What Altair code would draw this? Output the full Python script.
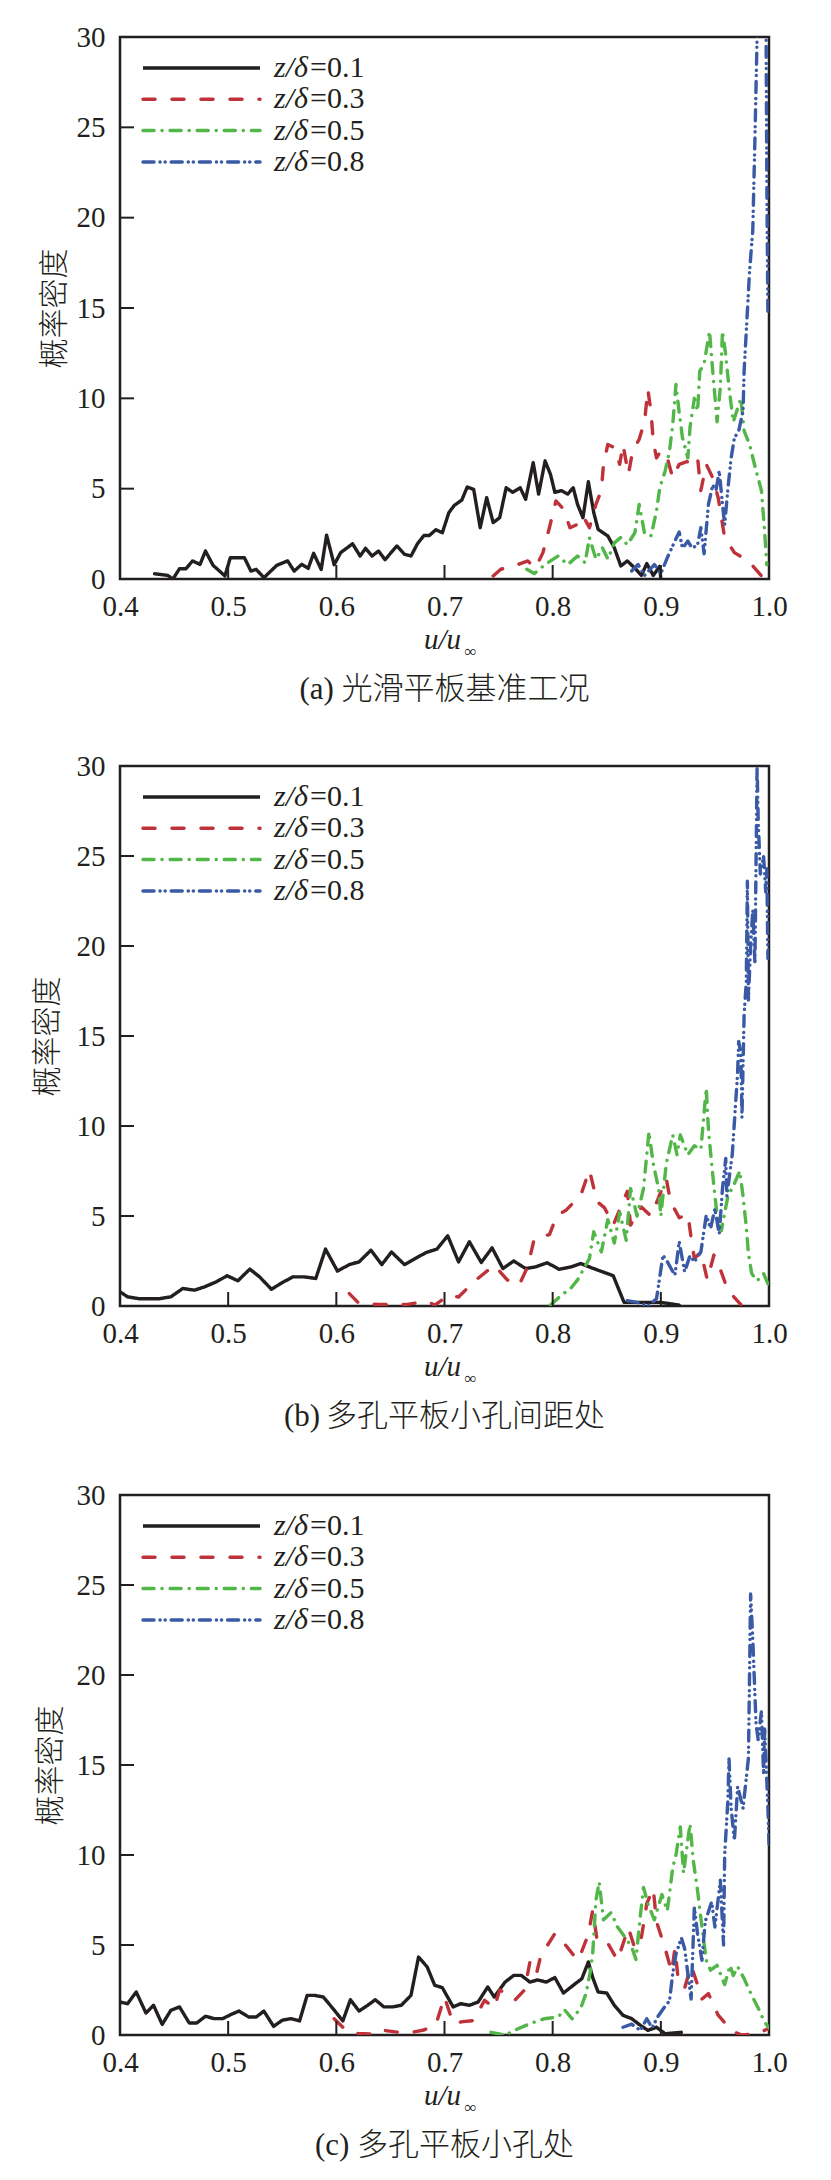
import altair as alt
import pandas as pd

# ---------------- data ----------------
SERIES = ["0.1", "0.3", "0.5", "0.8"]
COLORS = ["#231f20", "#c0323a", "#52b648", "#3a5aa6"]
DASHES = [[1, 0], [12, 17], [11, 8, 0.1, 8], [11, 6, 0.1, 5, 0.1, 6]]
XLABELS = [0.4, 0.5, 0.6, 0.7, 0.8, 0.9, 1.0]
YLABELS = [0, 5, 10, 15, 20, 25, 30]
XTICKS = [0.5, 0.6, 0.7, 0.8, 0.9]
YTICKS = [5, 10, 15, 20, 25]
CAP_PREFIX = ["(a)", "(b)", "(c)"]
CAP_TEXT = ["光滑平板基准工况", "多孔平板小孔间距处", "多孔平板小孔处"]
YTITLE = "概率密度"

# panel (a)
a01_u = [0.432, 0.444, 0.449, 0.455, 0.461, 0.467, 0.474, 0.479, 0.486, 0.497, 0.502, 0.515, 0.521, 0.526, 0.533,
         0.545, 0.555, 0.561, 0.568, 0.574, 0.579, 0.586, 0.591, 0.598, 0.604, 0.615, 0.622, 0.627, 0.633, 0.639,
         0.645, 0.656, 0.663, 0.669, 0.675, 0.681, 0.686, 0.692, 0.698, 0.704, 0.709, 0.716, 0.721, 0.727, 0.733,
         0.739, 0.745, 0.751, 0.757, 0.763, 0.770, 0.775, 0.782, 0.787, 0.793, 0.798, 0.802, 0.808, 0.814, 0.819,
         0.823, 0.828, 0.833, 0.838, 0.842, 0.851, 0.857, 0.863, 0.869, 0.877, 0.882, 0.887, 0.893, 0.899, 0.900]
a01_v = [0.29, 0.2, 0.0, 0.57, 0.57, 1.0, 0.81, 1.55, 0.76, 0.17, 1.18, 1.18, 0.44, 0.53, 0.07,
         0.76, 1.0, 0.44, 0.81, 0.59, 1.42, 0.53, 2.43, 0.79, 1.46, 1.95, 1.27, 1.7, 1.27, 1.55,
         1.07, 1.83, 1.37, 1.27, 1.95, 2.41, 2.41, 2.73, 2.56, 3.67, 4.07, 4.37, 5.09, 4.96, 2.84,
         4.5, 3.12, 3.39, 5.05, 4.8, 5.05, 4.41, 6.44, 4.7, 6.53, 5.79, 4.8, 4.89, 4.7, 5.05,
         4.13, 3.39, 5.38, 3.67, 2.75, 2.38, 1.73, 0.72, 1.0, 0.54, 0.2, 0.85, 0.2, 0.7, 0.0]
a03_u = [0.745, 0.752, 0.768, 0.777, 0.784, 0.791, 0.797, 0.803, 0.810, 0.816, 0.822, 0.828, 0.834, 0.840, 0.845,
         0.847, 0.851, 0.857, 0.862, 0.865, 0.870, 0.874, 0.880, 0.885, 0.888, 0.891, 0.893, 0.896, 0.900, 0.906,
         0.911, 0.917, 0.924, 0.930, 0.934, 0.937, 0.942, 0.948, 0.953, 0.959, 0.968, 0.981, 0.993]
a03_v = [0.17, 0.54, 0.8, 1.0, 0.6, 1.46, 2.84, 4.32, 3.87, 2.84, 3.0, 3.5, 2.84, 4.13, 4.9,
         6.35, 7.45, 7.27, 6.35, 7.45, 5.79, 7.1, 7.73, 8.74, 10.5, 9.2, 7.6, 6.7, 7.1, 6.7,
         5.6, 6.35, 6.5, 6.35, 6.7, 4.9, 6.35, 5.6, 4.5, 2.29, 1.46, 1.0, 0.17]
a05_u = [0.776, 0.783, 0.793, 0.805, 0.814, 0.823, 0.830, 0.834, 0.840, 0.846, 0.851, 0.857, 0.863, 0.869, 0.876,
         0.880, 0.885, 0.891, 0.896, 0.899, 0.904, 0.908, 0.911, 0.914, 0.917, 0.920, 0.925, 0.927, 0.931, 0.934,
         0.936, 0.940, 0.945, 0.948, 0.952, 0.955, 0.957, 0.960, 0.963, 0.967, 0.974, 0.977, 0.982, 0.988, 0.993,
         0.996, 0.998]
a05_v = [0.54, 0.3, 0.8, 1.27, 0.8, 1.27, 0.9, 2.29, 1.1, 1.73, 1.1, 2.0, 2.3, 1.9, 2.56,
         4.13, 2.5, 2.4, 3.76, 5.05, 5.98, 7.08, 8.56, 10.77, 9.2, 7.82, 6.7, 8.4, 10.0, 9.3,
         11.5, 11.9, 13.72, 11.5, 8.7, 10.6, 13.72, 12.4, 10.6, 8.7, 10.0, 8.2, 7.45, 6.0, 4.9,
         2.6, 0.8]
a08_u = [0.873, 0.879, 0.885, 0.894, 0.900, 0.906, 0.913, 0.917, 0.920, 0.925, 0.929, 0.934, 0.937, 0.940, 0.944,
         0.948, 0.951, 0.954, 0.957, 0.959, 0.962, 0.965, 0.968, 0.972, 0.976, 0.977, 0.981, 0.982, 0.985, 0.987,
         0.989, 0.993, 0.997, 0.998, 0.999]
a08_v = [0.44, 0.8, 0.2, 0.8, 0.3, 1.18, 2.1, 2.6, 1.7, 2.1, 1.7, 1.9, 2.84, 1.4, 4.13,
         5.2, 4.9, 5.98, 4.13, 3.0, 5.0, 6.7, 7.8, 8.2, 9.3, 11.5, 15.9, 17.0, 19.3, 24.4,
         30.0, 36.0, 34.0, 22.0, 14.5]

# panel (b)
b01_u = [0.400, 0.407, 0.418, 0.436, 0.447, 0.458, 0.469, 0.478, 0.489, 0.499, 0.509, 0.520, 0.529, 0.540, 0.550,
         0.560, 0.570, 0.581, 0.590, 0.601, 0.612, 0.621, 0.632, 0.642, 0.651, 0.663, 0.673, 0.683, 0.693, 0.703,
         0.713, 0.723, 0.734, 0.744, 0.754, 0.764, 0.775, 0.784, 0.795, 0.806, 0.817, 0.826, 0.836, 0.846, 0.856,
         0.866, 0.878, 0.900, 0.917]
b01_v = [0.79, 0.51, 0.4, 0.4, 0.51, 0.97, 0.88, 1.06, 1.34, 1.68, 1.4, 2.05, 1.62, 0.93, 1.3,
         1.62, 1.62, 1.53, 3.16, 1.94, 2.3, 2.45, 3.1, 2.3, 3.0, 2.3, 2.64, 2.97, 3.16, 3.9,
         2.45, 3.57, 2.42, 3.23, 2.08, 2.5, 2.08, 2.17, 2.4, 2.04, 2.17, 2.36, 2.12, 1.9, 1.68,
         0.2, 0.2, 0.2, 0.05]
b03_u = [0.612, 0.621, 0.640, 0.664, 0.684, 0.691, 0.704, 0.713, 0.727, 0.746, 0.758, 0.769, 0.777, 0.783, 0.797,
         0.804, 0.812, 0.826, 0.834, 0.841, 0.848, 0.856, 0.869, 0.872, 0.882, 0.891, 0.905, 0.909, 0.917, 0.925,
         0.928, 0.931, 0.937, 0.943, 0.949, 0.954, 0.962, 0.974]
b03_v = [0.69, 0.14, 0.08, 0.08, 0.26, 0.05, 0.6, 0.5, 1.34, 2.27, 1.45, 1.17, 2.2, 3.75, 3.97,
         5.04, 5.3, 6.16, 7.55, 5.8, 5.45, 4.5, 6.37, 4.5, 5.5, 5.0, 7.08, 5.8, 4.9, 5.1,
         3.8, 2.64, 3.0, 1.45, 2.83, 2.2, 0.87, 0.08]
b05_u = [0.798, 0.808, 0.817, 0.823, 0.834, 0.838, 0.845, 0.851, 0.857, 0.862, 0.868, 0.872, 0.878, 0.884, 0.889,
         0.893, 0.898, 0.900, 0.905, 0.911, 0.915, 0.918, 0.925, 0.931, 0.937, 0.942, 0.944, 0.947, 0.950, 0.953,
         0.956, 0.962, 0.968, 0.973, 0.976, 0.979, 0.981, 0.984, 0.989, 0.995, 1.0]
b05_v = [0.05, 0.6, 1.0, 1.45, 2.64, 4.12, 3.0, 4.8, 3.5, 5.2, 3.65, 6.53, 5.0, 6.53, 9.68,
         7.9, 6.5, 5.0, 7.9, 9.5, 8.4, 9.5, 8.4, 8.9, 8.7, 12.1, 9.8, 7.9, 6.1, 4.6,
         4.2, 6.1, 6.8, 7.5, 6.1, 4.4, 2.9, 1.8, 1.4, 1.8, 1.1]
b08_u = [0.869, 0.878, 0.888, 0.896, 0.902, 0.906, 0.913, 0.917, 0.922, 0.927, 0.931, 0.937, 0.942, 0.946, 0.950,
         0.954, 0.957, 0.960, 0.961, 0.966, 0.968, 0.971, 0.972, 0.974, 0.975, 0.977, 0.979, 0.980, 0.981, 0.983,
         0.985, 0.987, 0.989, 0.990, 0.992, 0.995, 0.997, 0.998, 0.999, 1.0]
b08_v = [0.3, 0.2, 0.0, 0.4, 2.82, 2.46, 1.7, 3.57, 1.9, 2.8, 2.46, 3.0, 5.04, 4.3, 5.4,
         4.0, 6.53, 8.2, 6.1, 8.4, 10.2, 13.0, 14.7, 14.0, 10.5, 16.2, 18.0, 23.6, 17.0, 20.0,
         22.0, 19.0, 30.0, 27.0, 24.0, 25.0, 23.0, 24.3, 19.3, 20.0]

# panel (c)
c01_u = [0.400, 0.407, 0.415, 0.424, 0.431, 0.439, 0.447, 0.455, 0.464, 0.471, 0.479, 0.487, 0.495, 0.503, 0.510,
         0.519, 0.526, 0.533, 0.542, 0.550, 0.558, 0.566, 0.573, 0.580, 0.588, 0.597, 0.606, 0.613, 0.621, 0.629,
         0.636, 0.644, 0.652, 0.660, 0.669, 0.676, 0.684, 0.691, 0.698, 0.708, 0.715, 0.723, 0.731, 0.740, 0.746,
         0.756, 0.764, 0.771, 0.779, 0.786, 0.794, 0.802, 0.810, 0.819, 0.827, 0.833, 0.837, 0.842, 0.850, 0.857,
         0.865, 0.873, 0.881, 0.888, 0.896, 0.904, 0.919]
c01_v = [1.83, 1.74, 2.39, 1.22, 1.65, 0.59, 1.37, 1.56, 0.67, 0.67, 1.04, 0.91, 0.91, 1.15, 1.33,
         1.0, 1.0, 1.33, 0.48, 0.82, 0.91, 0.78, 2.2, 2.2, 2.11, 1.46, 0.78, 1.96, 1.33, 1.65,
         1.96, 1.56, 1.56, 1.65, 2.2, 4.33, 3.78, 2.76, 2.63, 1.56, 1.74, 1.65, 1.83, 2.67, 2.11,
         2.94, 3.31, 3.31, 2.94, 3.06, 2.94, 3.19, 2.33, 2.76, 3.13, 4.06, 3.2, 2.39, 2.33, 1.65,
         1.09, 0.91, 0.54, 0.26, 0.43, 0.07, 0.15]
c03_u = [0.598, 0.610, 0.620, 0.636, 0.641, 0.658, 0.666, 0.681, 0.692, 0.700, 0.708, 0.717, 0.727, 0.737, 0.746,
         0.751, 0.760, 0.765, 0.774, 0.779, 0.785, 0.789, 0.802, 0.811, 0.823, 0.826, 0.833, 0.837, 0.841, 0.849,
         0.860, 0.870, 0.876, 0.882, 0.887, 0.893, 0.896, 0.904, 0.910, 0.913, 0.916, 0.922, 0.928, 0.935, 0.938,
         0.944, 0.953, 0.966, 0.975, 0.990, 0.999]
c03_v = [0.9, 0.2, 0.09, 0.05, 0.28, 0.15, 0.1, 0.28, 0.57, 2.11, 0.65, 0.74, 0.8, 1.93, 1.5,
         2.5, 2.2, 1.93, 2.5, 4.06, 3.4, 4.4, 5.63, 5.07, 4.15, 4.5, 5.6, 6.93, 5.3, 5.3,
         4.15, 5.96, 4.8, 5.4, 7.3, 8.13, 6.3, 4.8, 3.5, 4.8, 3.13, 2.6, 3.87, 2.6, 2.0,
         2.3, 1.1, 0.2, 0.0, 0.07, 0.35]
c05_u = [0.743, 0.756, 0.768, 0.780, 0.792, 0.805, 0.811, 0.818, 0.826, 0.831, 0.835, 0.837, 0.840, 0.843, 0.847,
         0.854, 0.860, 0.866, 0.873, 0.877, 0.881, 0.884, 0.888, 0.894, 0.901, 0.906, 0.911, 0.914, 0.918, 0.921,
         0.924, 0.927, 0.930, 0.934, 0.938, 0.942, 0.946, 0.952, 0.959, 0.964, 0.967, 0.971, 0.977, 0.984, 0.990,
         0.996, 1.0]
c05_v = [0.15, 0.0, 0.35, 0.65, 0.9, 1.0, 1.4, 0.9, 1.5, 2.33, 3.6, 4.5, 7.5, 8.5, 6.4,
         6.8, 6.0, 5.5, 4.9, 4.2, 6.6, 8.2, 7.3, 6.4, 7.8, 6.9, 9.3, 10.0, 11.56, 9.0,
         10.4, 11.74, 9.7, 8.0, 6.0, 4.15, 3.6, 3.87, 2.8, 3.87, 3.3, 3.8, 3.13, 2.2, 1.5,
         0.7, 0.4]
c08_u = [0.865, 0.873, 0.881, 0.887, 0.892, 0.897, 0.904, 0.908, 0.911, 0.914, 0.919, 0.922, 0.925, 0.928, 0.931,
         0.934, 0.938, 0.941, 0.947, 0.950, 0.955, 0.958, 0.959, 0.962, 0.963, 0.965, 0.968, 0.971, 0.976, 0.981,
         0.983, 0.985, 0.988, 0.990, 0.993, 0.995, 0.996, 0.999, 1.0]
c08_v = [0.43, 0.6, 0.26, 0.9, 0.4, 1.0, 1.6, 1.9, 3.4, 4.5, 5.4, 4.8, 3.4, 2.0, 7.1,
         5.6, 4.15, 6.3, 7.4, 6.0, 8.6, 5.0, 10.0, 13.04, 15.4, 12.6, 10.8, 13.8, 12.6, 15.4,
         24.5, 22.0, 17.3, 16.4, 18.0, 14.5, 17.0, 12.6, 10.6]

PANELS = [
    [(a01_u, a01_v), (a03_u, a03_v), (a05_u, a05_v), (a08_u, a08_v)],
    [(b01_u, b01_v), (b03_u, b03_v), (b05_u, b05_v), (b08_u, b08_v)],
    [(c01_u, c01_v), (c03_u, c03_v), (c05_u, c05_v), (c08_u, c08_v)],
]

# ---------------- styling ----------------
INK = "#231f20"
W = 649
HEIGHTS = [542, 540, 540]
TITLE_PAD = [7, 14, 11]
BOTTOM_EXT = [128.5, 130.5, 0]
NUM_FONT = "Liberation Serif"
CJK_FONT = "Noto Sans CJK SC"
CAP_SIZE = 31
ONE = pd.DataFrame({"k": [0]})


def build_panel(i):
    H = HEIGHTS[i]
    rows = []
    for s, (us, vs) in zip(SERIES, PANELS[i]):
        for u, v in zip(us, vs):
            rows.append({"u": u, "v": v, "s": s})
    df = pd.DataFrame(rows)

    def xenc():
        return alt.X("u:Q", scale=alt.Scale(domain=[0.4, 1.0], nice=False, zero=False),
                     axis=alt.Axis(values=XLABELS, format=".1f", title=None, labelPadding=13,
                                   labelFlush=False))

    def yenc():
        return alt.Y("v:Q", scale=alt.Scale(domain=[0, 30], nice=False),
                     axis=alt.Axis(values=YLABELS, title=YTITLE, titlePadding=TITLE_PAD[i],
                                   labelPadding=15))

    lines = alt.Chart(df).mark_line(clip=True, strokeWidth=3.4, strokeCap="round",
                                    strokeJoin="round").encode(
        x=xenc(), y=yenc(),
        color=alt.Color("s:N", scale=alt.Scale(domain=SERIES, range=COLORS), legend=None),
        strokeDash=alt.StrokeDash("s:N", scale=alt.Scale(domain=SERIES, range=DASHES), legend=None),
    )

    xt = alt.Chart(pd.DataFrame({"u": XTICKS})).mark_rule(color=INK, strokeWidth=2).encode(
        x=xenc(), y=alt.value(H), y2=alt.value(H - 14))
    yt = alt.Chart(pd.DataFrame({"v": YTICKS})).mark_rule(color=INK, strokeWidth=2).encode(
        y=yenc(), x=alt.value(0), x2=alt.value(14))

    layers = [lines, xt, yt]

    # legend
    for k, s in enumerate(SERIES):
        yy = 31 + 31.3 * k
        layers.append(alt.Chart(ONE).mark_rule(
            color=COLORS[k], strokeWidth=3.5, strokeDash=DASHES[k],
            strokeCap="butt" if k == 0 else "round").encode(
            x=alt.value(23), x2=alt.value(140), y=alt.value(yy)))
        layers.append(alt.Chart(ONE).mark_text(
            text="z/δ", font=NUM_FONT, fontStyle="italic", fontSize=30, color=INK,
            align="left", baseline="middle").encode(x=alt.value(154), y=alt.value(yy)))
        layers.append(alt.Chart(ONE).mark_text(
            text="=" + s, font=NUM_FONT, fontSize=30, color=INK,
            align="left", baseline="middle").encode(x=alt.value(190), y=alt.value(yy)))

    # x axis title u/u∞
    layers.append(alt.Chart(ONE).mark_text(
        text="u/u", font=NUM_FONT, fontStyle="italic", fontSize=29, color=INK,
        align="center", baseline="alphabetic").encode(x=alt.value(W / 2 - 2), y=alt.value(H + 70)))
    layers.append(alt.Chart(ONE).mark_text(
        text="∞", font=NUM_FONT, fontSize=17, color=INK,
        align="center", baseline="alphabetic").encode(x=alt.value(W / 2 + 26), y=alt.value(H + 78)))

    # caption: latin prefix in serif, Chinese part in CJK font
    pre_w = 1.36 * CAP_SIZE
    total = pre_w + len(CAP_TEXT[i]) * CAP_SIZE
    x0 = W / 2 - total / 2
    layers.append(alt.Chart(ONE).mark_text(
        text=CAP_PREFIX[i], font=NUM_FONT, fontSize=CAP_SIZE, color=INK,
        align="left", baseline="middle").encode(x=alt.value(x0), y=alt.value(H + 111)))
    layers.append(alt.Chart(ONE).mark_text(
        text=CAP_TEXT[i], font=CJK_FONT, fontSize=CAP_SIZE, fontWeight=300, color=INK,
        align="left", baseline="middle").encode(x=alt.value(x0 + pre_w), y=alt.value(H + 111)))

    if BOTTOM_EXT[i]:
        layers.append(alt.Chart(ONE).mark_rule(opacity=0).encode(
            x=alt.value(0), x2=alt.value(10), y=alt.value(H + BOTTOM_EXT[i])))

    return alt.layer(*layers).properties(width=W, height=H)


chart = alt.vconcat(*[build_panel(i) for i in range(3)], spacing=41).properties(
    padding={"left": 22, "top": 13, "right": 5, "bottom": 5},
    background="white",
).configure_view(
    stroke=INK, strokeWidth=2.5
).configure_axis(
    domain=False, ticks=False, grid=False,
    labelFont=NUM_FONT, labelFontSize=29, labelColor=INK,
    titleFont=CJK_FONT, titleFontSize=30, titleFontWeight=300, titleColor=INK,
)

chart.save("out.html", embed_options={"renderer": "svg", "actions": False})
